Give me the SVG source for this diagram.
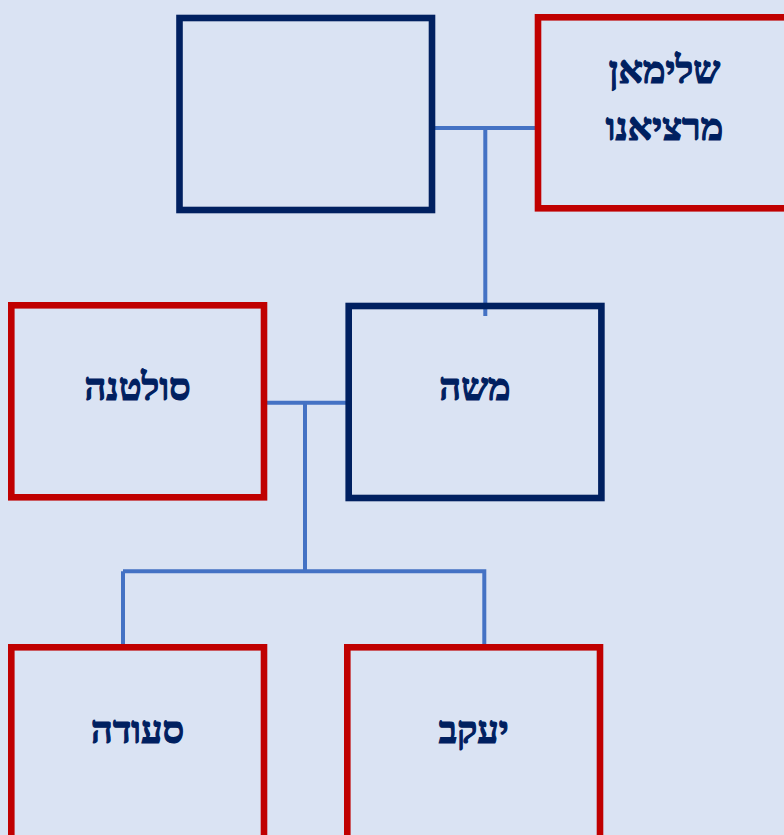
<svg xmlns="http://www.w3.org/2000/svg" width="784" height="835" viewBox="0 0 784 835">
<style>
.bg{fill:#DAE3F3}
.m{fill:none;stroke:#002060;stroke-width:6.6}
.f{fill:none;stroke:#C00000;stroke-width:6.6}
.c{fill:none;stroke:#4472C4;stroke-width:4}
.t{font-family:"Liberation Serif","DejaVu Serif",serif;font-weight:bold;font-size:38px;fill:#002060;stroke:#002060;stroke-width:1.2;text-anchor:middle;direction:rtl}
</style>
<rect class="bg" x="0" y="0" width="784" height="835"/>
<g id="connectors">
<path class="c" d="M432 128H537M485.3 128V316"/>
<path class="c" d="M264 402.7H347M305 402.7V571.3M123 571.3H486.3M123 571.3V647M484.3 571.3V647"/>
</g>
<g id="father">
<rect class="m" x="179.5" y="18" width="252.5" height="192"/>
</g>
<g id="shlomo">
<rect class="f" x="538" y="17.3" width="252.7" height="191"/>
<text class="t" x="664.5" y="83">שלימאן</text>
<text class="t" x="664.5" y="139.5">מרציאנו</text>
</g>
<g id="sultana">
<rect class="f" x="11.3" y="305.3" width="252.7" height="192"/>
<text class="t" x="137.6" y="399.5">סולטנה</text>
</g>
<g id="moshe">
<rect class="m" x="348.7" y="306" width="252.7" height="192"/>
<text class="t" x="475" y="399.5">משה</text>
</g>
<g id="seuda">
<rect class="f" x="11.3" y="647.3" width="252.7" height="200"/>
<text class="t" x="137.6" y="742.5">סעודה</text>
</g>
<g id="yaakov">
<rect class="f" x="347.3" y="647.3" width="252.7" height="200"/>
<text class="t" x="473.7" y="743">יעקב</text>
</g>
</svg>
